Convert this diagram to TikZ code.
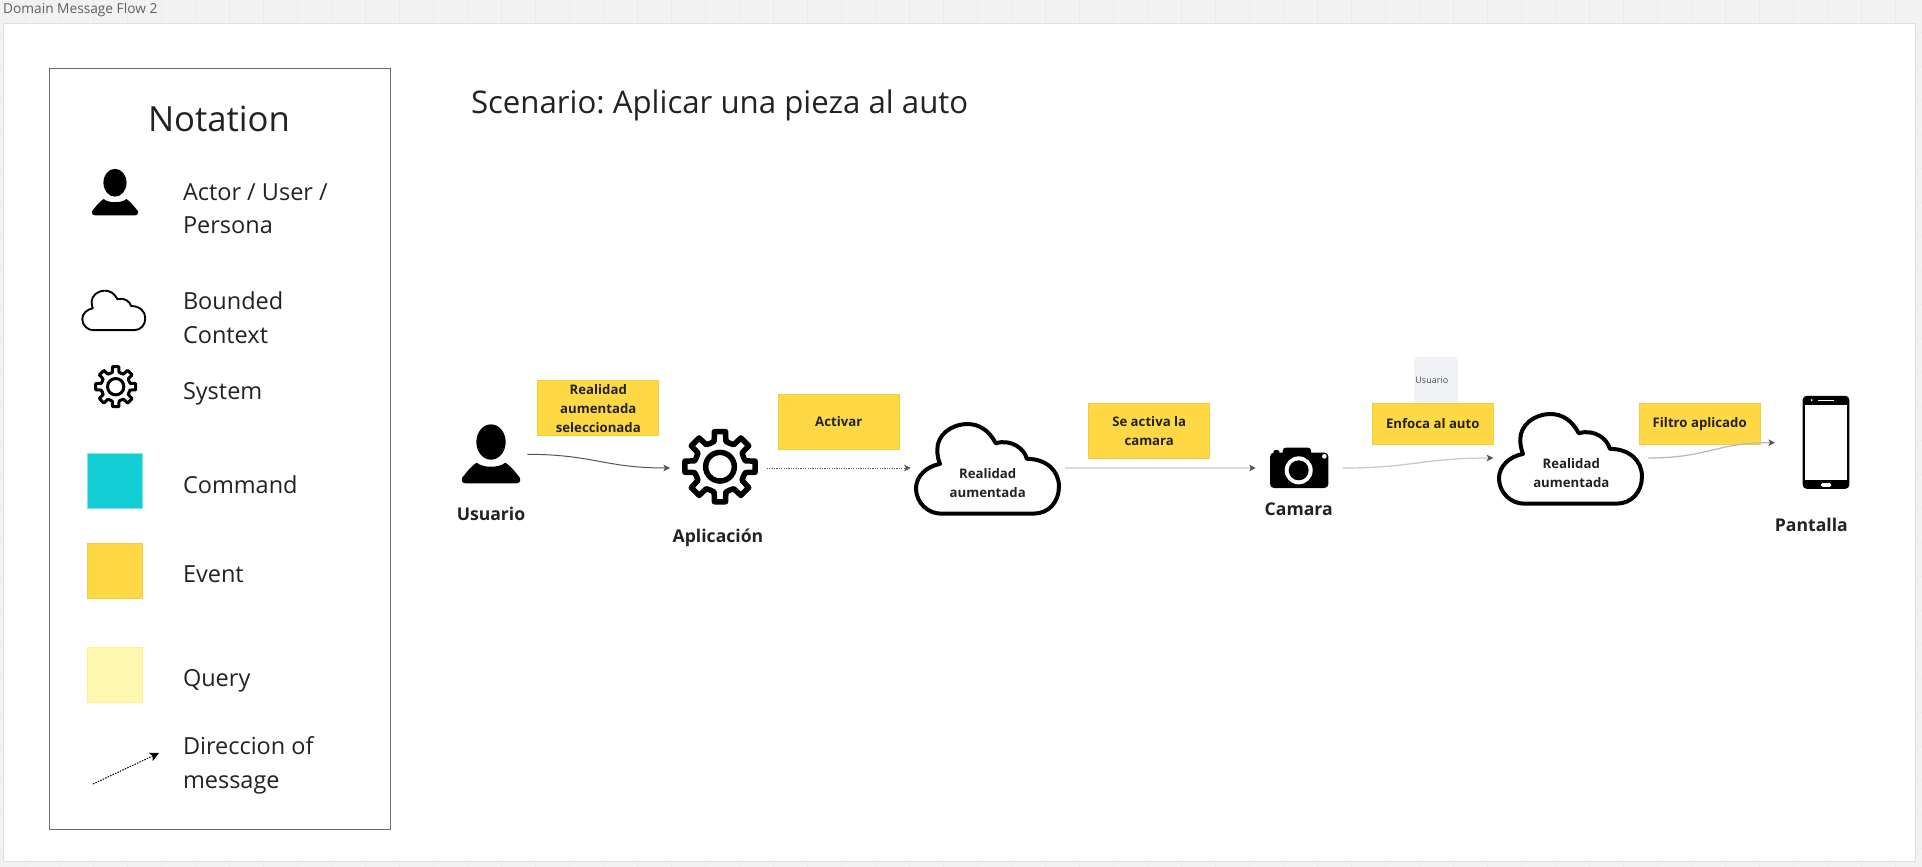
\documentclass[tikz,border=0pt]{standalone}
\usepackage{fontspec}
\setmainfont{Open Sans}
\usetikzlibrary{arrows.meta}
\frenchspacing
\definecolor{ink}{HTML}{222222}
\definecolor{evfill}{HTML}{FFD945}
\definecolor{evline}{HTML}{F7CB3C}
\definecolor{cmdfill}{HTML}{12CDD4}
\definecolor{cmdline}{HTML}{7FE6EA}
\definecolor{qfill}{HTML}{FFF6B0}
\definecolor{qline}{HTML}{FFF08C}
\definecolor{wire}{HTML}{555555}
\definecolor{notegray}{HTML}{F1F2F5}
\tikzset{
  txt/.style={inner sep=0pt,outer sep=0pt,text=ink,anchor=base west,font=\fontsize{23.5}{34}\selectfont},
  lbl/.style={inner sep=0pt,outer sep=0pt,text=ink,anchor=base,font=\fontsize{17.6}{24}\selectfont\bfseries},
  sticky/.style={draw=evline,fill=evfill,line width=1pt,inner sep=0pt,outer sep=0pt,align=center,text=ink,minimum width=121pt,font=\fontsize{13.2}{19}\selectfont\bfseries},
  cloudtext/.style={align=center,inner sep=0pt,text=ink,font=\fontsize{13.2}{19}\selectfont\bfseries},
  swatch/.style={line width=1pt,inner sep=0pt,minimum width=55pt,minimum height=55pt},
  hook/.style={inner sep=0pt,outer sep=0pt,minimum height=0pt,minimum width=#1},
  tip/.style={-{Stealth[length=6.5pt,width=6.5pt,inset=1.5pt,color=#1]}},
  wirearrow/.style={draw=wire,line width=1pt,tip=wire},
  dotarrow/.style={draw=wire,line width=1pt,dash pattern=on 1.2pt off 1.2pt,tip=wire},
  legendarrow/.style={draw=black,line width=1pt,dash pattern=on 1.5pt off 1.2pt,-{Stealth[length=9pt,width=9pt,inset=2pt,color=black]}},
  paleone/.style={draw=#1,line width=1.2pt,tip=wire},
  personicon/.pic={
    \fill[black] (0,-44) ellipse [x radius=44,y radius=53];
    \fill[black] (-76,80) .. controls (-90,80) and (-92,65) .. (-80,55)
      .. controls (-65,35) and (-50,22) .. (-43,18)
      .. controls (-30,28) and (-15,30) .. (0,30)
      .. controls (15,30) and (30,28) .. (43,18)
      .. controls (50,22) and (65,35) .. (80,55)
      .. controls (92,65) and (90,80) .. (76,80) -- cycle;
  },
  cloudicon/.pic={
    \draw[fill=white,line join=round] (-138,132) -- (137,132)
      .. controls (182,132) and (212,97) .. (212,52)
      .. controls (212,5) and (175,-30) .. (117,-30)
      .. controls (110,-60) and (70,-90) .. (25,-76)
      .. controls (5,-115) and (-25,-133) .. (-58,-133)
      .. controls (-108,-133) and (-148,-100) .. (-148,-58)
      .. controls (-148,-40) and (-145,-28) .. (-140,-15)
      .. controls (-180,-8) and (-211,22) .. (-211,57)
      .. controls (-211,100) and (-175,132) .. (-138,132) -- cycle;
  },
  gearicon/.pic={
    \draw[line join=round] (-13:78)
      \foreach \a in {0,45,...,315} {
        -- (\a-13:78) -- (\a-9:106.5) -- (\a+9:106.5) -- (\a+13:78) -- (\a+22.5:76)
      } -- cycle;
    \draw (0,0) circle (43);
  },
  cameraicon/.pic={
    \fill[black,rounded corners=4pt] (-86,-46) rectangle (89,60);
    \fill[black,rounded corners=3pt] (-48,-61) rectangle (37,-30);
    \fill[black,rounded corners=2pt] (-76,-54) rectangle (-58,-30);
    \fill[white] (0,7) circle (42);
    \fill[black] (0,7) circle (30);
    \fill[white] (77,-35) circle (7);
  },
  phoneicon/.pic={
    \fill[black,rounded corners=4pt] (-70,-140) rectangle (70,139);
    \fill[white] (-64,-114) rectangle (64,113);
    \fill[white] (-43,-127) circle (3);
    \fill[white] (-25,-129) rectangle (25,-126);
    \fill[white,rounded corners=1.5pt] (-15,122) rectangle (16,133);
  }
}
\begin{document}
\begin{tikzpicture}[x=1pt,y=-1pt]
\useasboundingbox (0,0) rectangle (1922,867);
% workspace
\fill[black!5] (0,0) rectangle (1922,867);
\foreach \gx in {25,59,...,1922} \draw[black!8,line width=.8pt] (\gx,0) -- (\gx,867);
\foreach \gy in {32.7,66.7,...,867} \draw[black!8,line width=.8pt] (0,\gy) -- (1922,\gy);
\node[inner sep=0pt,anchor=base west,text=black!62,font=\fontsize{13.7}{18}\selectfont] (frametitle) at (3,14) {Domain Message Flow 2};
\draw[draw=black!12,fill=white,line width=1pt] (3,24) rectangle (1915,861.5);
% legend
\draw[draw=black!58,line width=1pt] (49.5,69) rectangle (390,829.5);
\node[txt,anchor=base,font=\fontsize{34.7}{44}\selectfont] (notation) at (219,131.5) {Notation};
\pic[scale=.263] at (115,194.3) {personicon};
\node[txt] (legactor) at (183,200.5) {Actor / User /};
\node[txt] (legactor2) at (183,233.5) {Persona};
\pic[scale=.149,line width=1.9pt] at (113.7,310.5) {cloudicon};
\node[txt] (legbc) at (183,309.5) {Bounded};
\node[txt] (legbc2) at (183,343.5) {Context};
\pic[scale=.19,line width=3pt] at (115.7,386.7) {gearicon};
\node[txt] (legsys) at (183,399) {System};
\node[swatch,draw=cmdline,fill=cmdfill] (legcmdbox) at (115,481.3) {};
\node[txt] (legcmd) at (183,493.5) {Command};
\node[swatch,draw=evline,fill=evfill] (legevbox) at (115,570.7) {};
\node[txt] (legev) at (183,582.5) {Event};
\node[swatch,draw=qline,fill=qfill] (legqbox) at (115,674.7) {};
\node[txt] (legq) at (183,686.5) {Query};
\coordinate (legfrom) at (93,784);
\coordinate (legto) at (159,753);
\draw[legendarrow] (legfrom) -- (legto);
\node[txt] (legdir) at (183,754.5) {Direccion of};
\node[txt] (legdir2) at (183,788.5) {message};
% title
\node[txt,font=\fontsize{31.2}{40}\selectfont] (scenario) at (471,113.5) {Scenario: Aplicar una pieza al auto};
% gray note
\node[fill=notegray,inner sep=0pt,minimum width=44.5pt,minimum height=46pt,text=black!70,font=\fontsize{9}{10}\selectfont] (note) at (1435.8,380) {\hspace*{-8pt}Usuario};
% stickies
\node[sticky,minimum height=55.5pt] (ev1) at (598.3,408.2) {Realidad\\aumentada\\seleccionada};
\node[sticky,minimum height=55pt] (ev2) at (838.8,422) {Activar};
\node[sticky,minimum height=55pt] (ev3) at (1149.2,431.3) {Se activa la\\camara};
\node[sticky,minimum height=40.5pt] (ev4) at (1432.8,424) {Enfoca al auto};
\node[sticky,minimum height=40.5pt] (ev5) at (1699.7,424) {Filtro aplicado};
% actors: hooks hold the connector ends
\node[hook=72.6pt] (usuario) at (491,454.3) {};
\node[hook=96.7pt] (aplicacion) at (718.35,468) {};
\node[hook=154.3pt] (ctx1) at (987.85,468) {};
\node[hook=86.6pt] (camara) at (1299,468) {};
\node[hook=155pt] (ctx2) at (1570.8,458) {};
\node[hook=102pt] (pantalla) at (1826,442.7) {};
\pic[scale=1/3] at (491,456.7) {personicon};
\pic[scale=1/3,line width=5.5pt] at (720,466.7) {gearicon};
\pic[scale=.338,line width=4pt] at (987.3,469) {cloudicon};
\pic[scale=1/3] at (1298.7,468) {cameraicon};
\pic[scale=.338,line width=4pt] at (1570.3,459) {cloudicon};
\pic[scale=1/3] at (1826,442.5) {phoneicon};
\node[lbl] (usuariot) at (491,520.7) {Usuario};
\node[lbl] (aplicaciont) at (718,542.7) {Aplicación};
\node[lbl] (camarat) at (1298.7,515.7) {Camara};
\node[lbl] (pantallat) at (1811.3,531) {Pantalla};
\node[cloudtext] (ctx1t) at (987.7,483) {Realidad\\aumentada};
\node[cloudtext] (ctx2t) at (1571.3,473) {Realidad\\aumentada};
% connectors
\draw[wirearrow] (usuario.east) .. controls +(65,0) and +(-65,0) .. (aplicacion.west);
\draw[dotarrow] (aplicacion.east) -- (ctx1.west);
\draw[paleone=black!14] (ctx1.east) -- (camara.west);
\draw[paleone=black!22] (camara.east) .. controls +(70,0) and +(-70,0) .. (ctx2.west);
\draw[paleone=black!28] (ctx2.east) .. controls +(60,0) and +(-60,0) .. (pantalla.west);
\end{tikzpicture}
\end{document}
